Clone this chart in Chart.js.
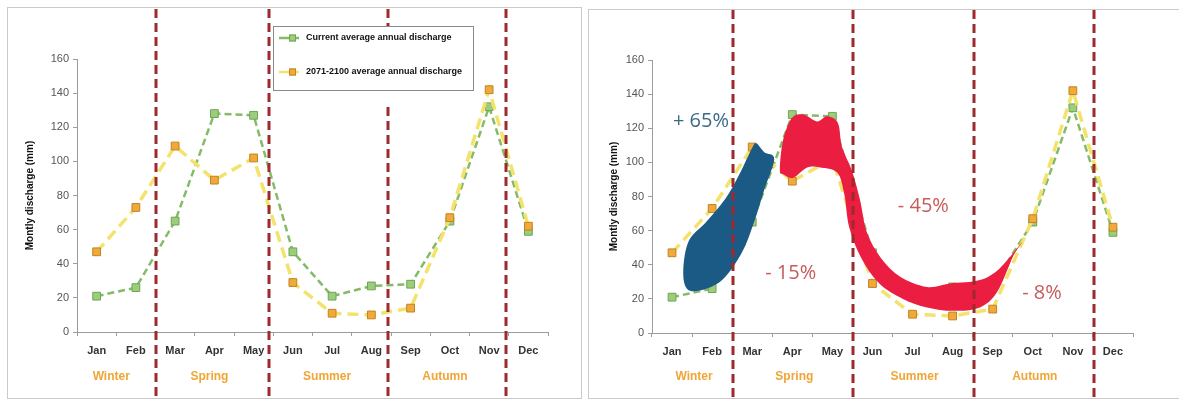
<!DOCTYPE html>
<html>
<head>
<meta charset="utf-8">
<script src="https://cdn.jsdelivr.net/npm/chart.js@4.4.1/dist/chart.umd.min.js"></script>
<style>
    body { margin: 0; background: #fff; width: 1179px; height: 404px; overflow: hidden; position: relative; }
    .painel { position: absolute; top: 0; }
    .moldura { position: absolute; border: 1px solid #cacaca; }
</style>
</head>
<body>
<div class="moldura" style="left:7px; top:7px; width:573px; height:390px;"></div>
<div class="moldura" style="left:588px; top:9px; width:600px; height:388px;"></div>
<div class="painel" style="left:0px;"><canvas id="grafico-esq" width="586" height="404"></canvas></div>
<div class="painel" style="left:586px;"><canvas id="grafico-dir" width="593" height="404"></canvas></div>
<script>

// dados
const meses = ['Jan', 'Feb', 'Mar', 'Apr', 'May', 'Jun', 'Jul', 'Aug', 'Sep', 'Oct', 'Nov', 'Dec'];
const vazaoAtual = [21, 26, 65, 128, 127, 47, 21, 27, 28, 65, 132, 59];
const vazaoFutura = [47, 73, 109, 89, 102, 29, 11, 10, 14, 67, 142, 62];
const estacoes = ['Winter', 'Spring', 'Summer', 'Autumn'];
const centroEstacoes = [0.5, 3, 6, 9];
const limitesEstacoes = [1.5, 4.5, 7.5, 10.5];
const rotulosPct = ['+ 65%', '- 15%', '- 45%', '- 8%'];
const nomesSeries = ['Current average annual discharge', '2071-2100 average annual discharge'];

const corVerde = '#85ba68';
const corAmarelo = '#f3e36c';
const fonte = 'Liberation Sans, Arial, sans-serif';

// contornos das manchas em coordenadas (mes, mm)
const manchaAzul = [[0.37, 26], [0.28, 37], [0.42, 54], [0.85, 65], [1.34, 79], [1.68, 93], [2.01, 109], [2.11, 111],
    [2.30, 106], [2.55, 102], [2.30, 84], [2.06, 66], [1.74, 47], [1.25, 31], [0.72, 25]];
const manchaVermelha = [[2.69, 96], [2.77, 113], [2.99, 126], [3.27, 128], [3.62, 124], [3.87, 127], [4.14, 123], [4.24, 109],
    [4.49, 95], [4.69, 78], [4.86, 59], [5.21, 44], [5.69, 33], [6.36, 27], [6.94, 29], [7.68, 31], [8.18, 38], [8.73, 53],
    [8.51, 45], [8.11, 24], [7.68, 15], [7.01, 13], [6.36, 15], [5.76, 20], [5.17, 29], [4.72, 44], [4.42, 62], [4.30, 81],
    [4.12, 94], [3.69, 97], [3.37, 97], [3.02, 91], [2.77, 93]];

function desenharMancha(ctx, pontos, x, y, cor) {
    const p = pontos.map(q => [x.getPixelForValue(q[0]), y.getPixelForValue(q[1])]);
    const n = p.length;
    ctx.beginPath();
    ctx.moveTo(p[0][0], p[0][1]);
    for (let i = 0; i < n; i++) {
        const p0 = p[(i - 1 + n) % n], p1 = p[i], p2 = p[(i + 1) % n], p3 = p[(i + 2) % n];
        ctx.bezierCurveTo(p1[0] + (p2[0] - p0[0]) / 6, p1[1] + (p2[1] - p0[1]) / 6,
            p2[0] - (p3[0] - p1[0]) / 6, p2[1] - (p3[1] - p1[1]) / 6, p2[0], p2[1]);
    }
    ctx.closePath();
    ctx.fillStyle = cor;
    ctx.fill();
}

const decoracoes = {
    id: 'decoracoes',
    afterDatasetsDraw(chart, args, opts) {
        if (!opts.manchas) return;
        const ctx = chart.ctx;
        ctx.save();
        desenharMancha(ctx, manchaAzul, chart.scales.x, chart.scales.y, '#1c5a86');
        desenharMancha(ctx, manchaVermelha, chart.scales.x, chart.scales.y, '#eb1d40');
        ctx.restore();
    },
    afterDraw(chart, args, opts) {
        const ctx = chart.ctx;
        const x = chart.scales.x, y = chart.scales.y;
        ctx.save();

        // estacoes
        ctx.font = 'bold 12px ' + fonte;
        ctx.fillStyle = '#f0a534';
        ctx.textAlign = 'center';
        ctx.textBaseline = 'middle';
        for (let i = 0; i < estacoes.length; i++) {
            ctx.fillText(estacoes[i], x.getPixelForValue(centroEstacoes[i]) + opts.ajusteEstacao, 377);
        }

        // divisorias tracejadas
        ctx.strokeStyle = '#9e2b2c';
        ctx.lineWidth = 3;
        ctx.setLineDash([9, 5]);
        for (let i = 0; i < limitesEstacoes.length; i++) {
            const xp = Math.round(x.getPixelForValue(limitesEstacoes[i]) + opts.ajusteDivisoria[i]);
            ctx.beginPath();
            ctx.moveTo(xp, opts.topoDivisoria);
            ctx.lineTo(xp, 398);
            ctx.stroke();
        }
        ctx.setLineDash([]);

        // legenda (so no grafico da esquerda)
        if (opts.legenda) {
            ctx.fillStyle = '#fff';
            ctx.fillRect(273, 26, 200, 79);
            ctx.strokeStyle = '#8a8a8a';
            ctx.lineWidth = 1;
            ctx.strokeRect(273.5, 26.5, 200, 64);
            const cores = [[corVerde, '#9ccd7c', '#6ea553'], [corAmarelo, '#f2a93b', '#c0841f']];
            const ys = [38, 72];
            ctx.font = 'bold 9px ' + fonte;
            ctx.textAlign = 'left';
            for (let i = 0; i < 2; i++) {
                ctx.strokeStyle = cores[i][0];
                ctx.lineWidth = 2.5;
                ctx.beginPath();
                ctx.moveTo(279, ys[i]);
                ctx.lineTo(299, ys[i]);
                ctx.stroke();
                ctx.fillStyle = cores[i][1];
                ctx.fillRect(289, ys[i] - 3.5, 7, 7);
                ctx.strokeStyle = cores[i][2];
                ctx.lineWidth = 1;
                ctx.strokeRect(289.5, ys[i] - 3, 6, 6);
                ctx.fillStyle = '#111';
                ctx.fillText(nomesSeries[i], 306, ys[i]);
            }
        }

        // percentuais
        if (opts.percentuais) {
            ctx.font = '20px "Open Sans", sans-serif';
            ctx.textAlign = 'center';
            for (let i = 0; i < rotulosPct.length; i++) {
                const pos = opts.percentuais[i];
                ctx.fillStyle = i == 0 ? '#3a6b86' : '#c65b5c';
                ctx.fillText(rotulosPct[i], x.getPixelForValue(pos[0]), y.getPixelForValue(pos[1]));
            }
        }
        ctx.restore();
    }
};

function criarGrafico(canvas, area, opcoesDecoracao) {
    const largura = canvas.width, altura = canvas.height;
    return new Chart(canvas, {
        type: 'line',
        data: {
            labels: meses,
            datasets: [{
                label: nomesSeries[0],
                data: vazaoAtual,
                borderColor: corVerde,
                borderWidth: 2.5,
                borderDash: [7, 4],
                pointStyle: 'rect',
                pointRadius: 5.5,
                pointBackgroundColor: '#9ccd7c',
                pointBorderColor: '#6ea553',
                pointBorderWidth: 1,
                order: 2
            }, {
                label: nomesSeries[1],
                data: vazaoFutura,
                borderColor: corAmarelo,
                borderWidth: 3.5,
                borderDash: [11, 6],
                pointStyle: 'rect',
                pointRadius: 5.5,
                pointBackgroundColor: '#f2a93b',
                pointBorderColor: '#c0841f',
                pointBorderWidth: 1,
                order: 1
            }]
        },
        options: {
            responsive: false,
            animation: false,
            layout: { padding: { left: 0, top: area.top, right: largura - area.right, bottom: 0 } },
            plugins: {
                legend: { display: false },
                tooltip: { enabled: false },
                decoracoes: opcoesDecoracao
            },
            scales: {
                x: {
                    offset: true,
                    grid: { offset: true, drawOnChartArea: false, tickLength: 4, color: '#9c9c9c' },
                    border: { color: '#9c9c9c' },
                    ticks: { color: '#333', font: { family: fonte, size: 11, weight: 'bold' }, padding: 8, maxRotation: 0, autoSkip: false },
                    afterFit: function (s) { s.height = altura - area.bottom; }
                },
                y: {
                    min: 0,
                    max: 160,
                    ticks: { stepSize: 20, color: '#555', font: { family: fonte, size: 11 }, padding: 4 },
                    grid: { drawOnChartArea: false, tickLength: 4, color: '#9c9c9c' },
                    border: { color: '#9c9c9c' },
                    title: {
                        display: true,
                        text: 'Montly discharge (mm)',
                        color: '#111',
                        font: { family: fonte, size: 10, weight: 'bold' },
                        padding: { top: area.titulo, bottom: 0 }
                    },
                    afterFit: function (s) { s.width = area.left; }
                }
            }
        },
        plugins: [decoracoes]
    });
}

const graficoEsq = criarGrafico(document.getElementById('grafico-esq'),
    { left: 77, top: 59, right: 548, bottom: 332, titulo: 24 },
    { legenda: true, ajusteEstacao: -5, ajusteDivisoria: [0, -4, -3, -3], topoDivisoria: 9 });

const graficoDir = criarGrafico(document.getElementById('grafico-dir'),
    { left: 66, top: 60, right: 547, bottom: 333, titulo: 22 },
    { manchas: true, ajusteEstacao: 2, ajusteDivisoria: [1, 1, 1, 1], topoDivisoria: 10,
      percentuais: [[0.72, 124], [2.96, 35], [6.27, 74], [9.23, 23]] });
</script>
</body>
</html>
